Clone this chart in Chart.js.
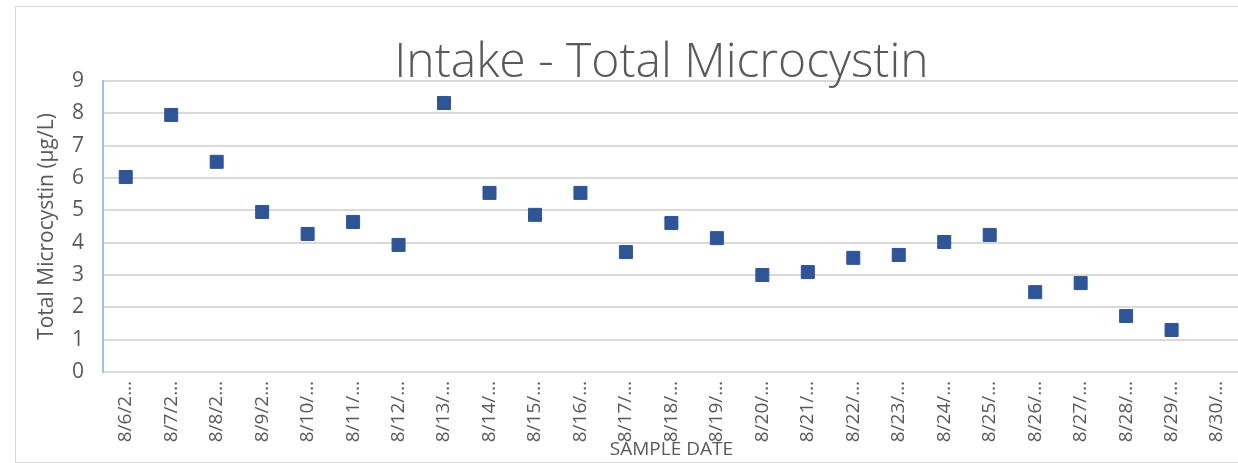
<!DOCTYPE html>
<html>
<head>
<meta charset="utf-8">
<script src="https://cdn.jsdelivr.net/npm/chart.js@4/dist/chart.umd.min.js"></script>
<style>
  html, body { margin: 0; padding: 0; background: #fff; overflow: hidden; }
  #frame { position: absolute; left: 15px; top: 6px; width: 1240px; height: 455px; border: 1px solid #d9d9d9; }
  #wrap { position: absolute; left: 0; top: 0; width: 1250px; height: 463px; }
</style>
</head>
<body>
<div id="frame"></div>
<div id="wrap"><canvas id="chart"></canvas></div>
<script>
// sample dates as they show on the axis (cut off by the original chart)
const sampleDates = ['8/6/2…', '8/7/2…', '8/8/2…', '8/9/2…', '8/10/…', '8/11/…', '8/12/…', '8/13/…',
    '8/14/…', '8/15/…', '8/16/…', '8/17/…', '8/18/…', '8/19/…', '8/20/…', '8/21/…', '8/22/…',
    '8/23/…', '8/24/…', '8/25/…', '8/26/…', '8/27/…', '8/28/…', '8/29/…', '8/30/…'];

// total microcystin, ug/L (no sample for 8/30)
const microcystin = [6.03, 7.95, 6.5, 4.95, 4.27, 4.64, 3.93, 8.32,
    5.54, 4.86, 5.54, 3.71, 4.61, 4.14, 3.0, 3.09, 3.53,
    3.62, 4.02, 4.24, 2.47, 2.75, 1.73, 1.3, null];

const yTicks = [0, 1, 2, 3, 4, 5, 6, 7, 8, 9];

const chartTitle = 'Intake - Total Microcystin';
const textColor = '#595959';
const fontName = '"Open Sans", "Noto Sans", sans-serif';

// title drawn by hand so it sits where the spreadsheet put it
const titlePlugin = {
    id: 'plotTitle',
    afterDraw(chart) {
        const { ctx, chartArea } = chart;
        ctx.save();
        ctx.font = '300 48px ' + fontName;
        ctx.fillStyle = textColor;
        ctx.textAlign = 'center';
        ctx.textBaseline = 'alphabetic';
        ctx.fillText(chartTitle, (chartArea.left + chartArea.right) / 2 - 10, 77);
        ctx.restore();
    }
};

new Chart(document.getElementById('chart'), {
    type: 'line',
    data: {
        labels: sampleDates,
        datasets: [{
            label: 'Total Microcystin',
            data: microcystin,
            showLine: false,
            pointStyle: 'rect',
            pointRadius: 9.2,
            pointHoverRadius: 9.2,
            pointBackgroundColor: '#2F5597',
            pointBorderColor: '#2F5597',
            pointBorderWidth: 1
        }]
    },
    options: {
        responsive: true,
        maintainAspectRatio: false,
        animation: false,
        layout: { padding: { top: 81, right: 8, left: 0, bottom: 0 } },
        plugins: {
            legend: { display: false },
            tooltip: { enabled: false }
        },
        scales: {
            x: {
                type: 'category',
                offset: true,
                grid: { display: false, drawTicks: false },
                border: { color: '#d9d9d9', width: 2 },
                ticks: {
                    color: textColor,
                    font: { family: fontName, size: 19 },
                    minRotation: 90,
                    maxRotation: 90,
                    autoSkip: false,
                    padding: 9
                },
                title: {
                    display: true,
                    text: 'SAMPLE DATE',
                    color: textColor,
                    font: { family: fontName, size: 19 },
                    padding: { top: 0, bottom: 2 }
                },
                afterFit(scale) { scale.height = 91; }
            },
            y: {
                min: 0,
                max: 9,
                afterBuildTicks(scale) { scale.ticks = yTicks.map(v => ({ value: v })); },
                grid: { color: '#d9d9d9', lineWidth: 2, drawTicks: false },
                border: { color: '#9DC3E6', width: 2 },
                ticks: {
                    color: textColor,
                    font: { family: fontName, size: 21 },
                    padding: 19
                },
                title: {
                    display: true,
                    text: 'Total Microcystin (µg/L)',
                    color: textColor,
                    font: { family: fontName, size: 21 },
                    padding: { top: 34, bottom: 0 }
                },
                afterFit(scale) { scale.width = 103; }
            }
        }
    },
    plugins: [titlePlugin]
});
</script>
</body>
</html>
